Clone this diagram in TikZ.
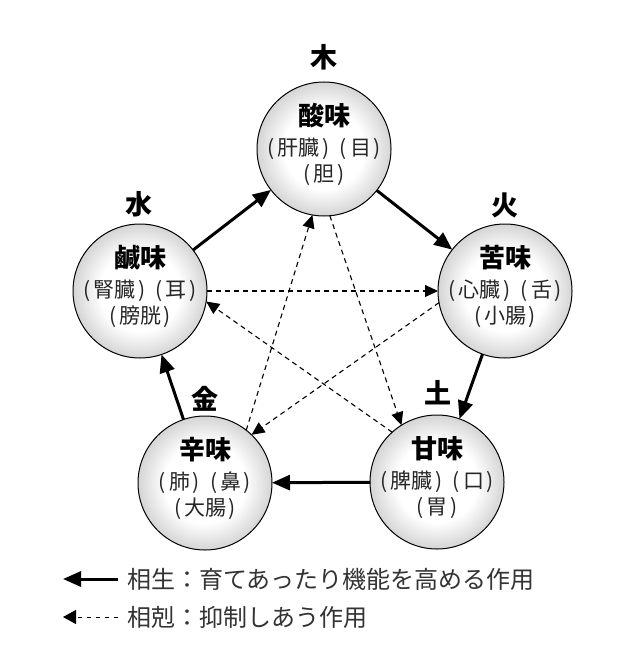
\documentclass[tikz,border=0pt]{standalone}
\usepackage{fontspec}
\setmainfont{Noto Sans CJK JP}
\usetikzlibrary{arrows.meta}

\pgfdeclareradialshading{orb}{\pgfpoint{0bp}{0bp}}{color(0bp)=(white); color(15bp)=(white); color(50bp)=(black!58)}
\newcommand{\pn}[1]{\kern.25em(\kern.15em#1\kern.12em)\kern.25em}

\tikzset{
    taste/.style={circle, draw=black, line width=1pt, minimum size=134pt, inner sep=0pt, outer sep=0pt, shade, shading=orb},
    elem/.style={font=\fontsize{27}{30}\selectfont\bfseries, inner sep=0pt},
    title/.style={font=\fontsize{26}{30}\selectfont\bfseries, inner sep=0pt},
    organ/.style={font=\fontsize{21}{25}\selectfont, text=black!85, inner sep=0pt},
    note/.style={font=\fontsize{24}{28}\selectfont, text=black!80, inner sep=0pt, anchor=west},
    sei/.style={line width=3pt, -{Triangle[length=18pt,width=15pt]}},
    koku/.style={line width=1.1pt, dash pattern=on 5pt off 4pt, -{Triangle[length=13pt,width=12pt]}},
}

\begin{document}
\begin{tikzpicture}[x=1pt, y=-1pt]
    \useasboundingbox[fill=white] (0,0) rectangle (642,647);

    \foreach \n/\px/\py/\ex/\ey/\e/\t/\a/\b in {%
        sour/324/149/324/57/木/酸味/\pn{肝臓}\pn{目}/\pn{胆},
        bitter/505/291/505/205/火/苦味/\pn{心臓}\pn{舌}/\pn{小腸},
        sweet/437/482/438/393/土/甘味/\pn{脾臓}\pn{口}/\pn{胃},
        pungent/205/483/205/399/金/辛味/\pn{肺}\pn{鼻}/\pn{大腸},
        salty/140/291/139/204/水/鹹味/\pn{腎臓}\pn{耳}/\pn{膀胱}}{%
        \node[taste] (\n) at (\px,\py) {};
        \node[elem] (\n-e) at (\ex,\ey) {\e};
        \node[title] (\n-t) at ([yshift=33pt]\n) {\t};
        \node[organ] (\n-a) at (\n) {\a};
        \node[organ] (\n-b) at ([yshift=-26pt]\n) {\b};
    }

    % sosei
    \draw[sei] (salty) -- (sour);
    \draw[sei] (sour) -- (bitter);
    \draw[sei] (bitter) -- (sweet);
    \draw[sei] (sweet) -- (pungent);
    \draw[sei] (pungent) -- (salty);

    % sokoku
    \draw[koku] (sour.-85) -- (sweet.122);
    \draw[koku] (sweet.132) -- (salty.-9);
    \draw[koku] (salty.0) -- (bitter.180);
    \draw[koku] (bitter.190) -- (pungent.46);
    \draw[koku] (pungent.52) -- (sour.-100);

    % legend
    \coordinate (seiA) at (118,579);
    \coordinate (seiB) at (63,579);
    \coordinate (kokuA) at (118,617);
    \coordinate (kokuB) at (63,617);
    \draw[sei] (seiA) -- (seiB);
    \draw[koku, line width=1pt, dash pattern=on 4pt off 5pt, -{Triangle[length=13pt,width=14pt]}] (kokuA) -- (kokuB);
    \node[note] (seiT) at (127,579) {相生：育てあったり機能を高める作用};
    \node[note] (kokuT) at (127,617) {相剋：抑制しあう作用};
\end{tikzpicture}
\end{document}
